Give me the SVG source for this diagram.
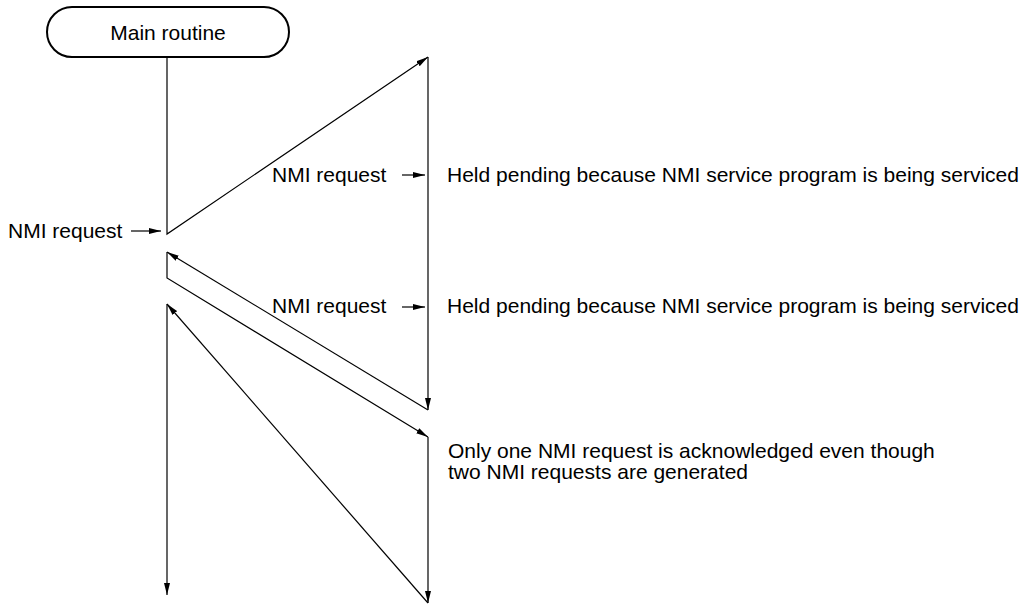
<svg xmlns="http://www.w3.org/2000/svg" width="1029" height="604" viewBox="0 0 1029 604">
<style>
text{font-family:"Liberation Sans",Arial,sans-serif;font-size:21px;fill:#000}
.c{fill:none;stroke:#000;stroke-width:1.2}
</style>
<defs>
<marker id="ah" viewBox="0 0 12 6" refX="12" refY="3" markerWidth="12" markerHeight="6" markerUnits="userSpaceOnUse" orient="auto">
<path d="M0,0 L12,3 L0,6 Z" fill="#000"/>
</marker>
</defs>
<rect width="1029" height="604" fill="#fff"/>
<g id="main-routine">
<rect x="47" y="7" width="242" height="50" rx="25" ry="25" fill="#fff" stroke="#000" stroke-width="2"/>
<text x="168" y="40" text-anchor="middle">Main routine</text>
</g>
<g id="connectors">
<path class="c" d="M167,57 L167,234 L428,57" marker-end="url(#ah)"/>
<path class="c" d="M428,57 L428,410" marker-end="url(#ah)"/>
<path class="c" d="M428,410 L167,252" marker-end="url(#ah)"/>
<path class="c" d="M167,252 L167,278 L428,437" marker-end="url(#ah)"/>
<path class="c" d="M428,437 L428,603" marker-end="url(#ah)"/>
<path class="c" d="M428,603 L167,304" marker-end="url(#ah)"/>
<path class="c" d="M167,304 L167,595" marker-end="url(#ah)"/>
<path class="c" d="M131,231 L161,231" marker-end="url(#ah)"/>
<path class="c" d="M402,175 L425,175" marker-end="url(#ah)"/>
<path class="c" d="M402,307 L425,307" marker-end="url(#ah)"/>
</g>
<g id="labels">
<text x="8" y="238">NMI request</text>
<text x="272" y="182">NMI request</text>
<text x="272" y="313">NMI request</text>
<text x="447" y="182">Held pending because NMI service program is being serviced</text>
<text x="447" y="313">Held pending because NMI service program is being serviced</text>
<text x="448" y="458">Only one NMI request is acknowledged even though</text>
<text x="448" y="479">two NMI requests are generated</text>
</g>
</svg>
